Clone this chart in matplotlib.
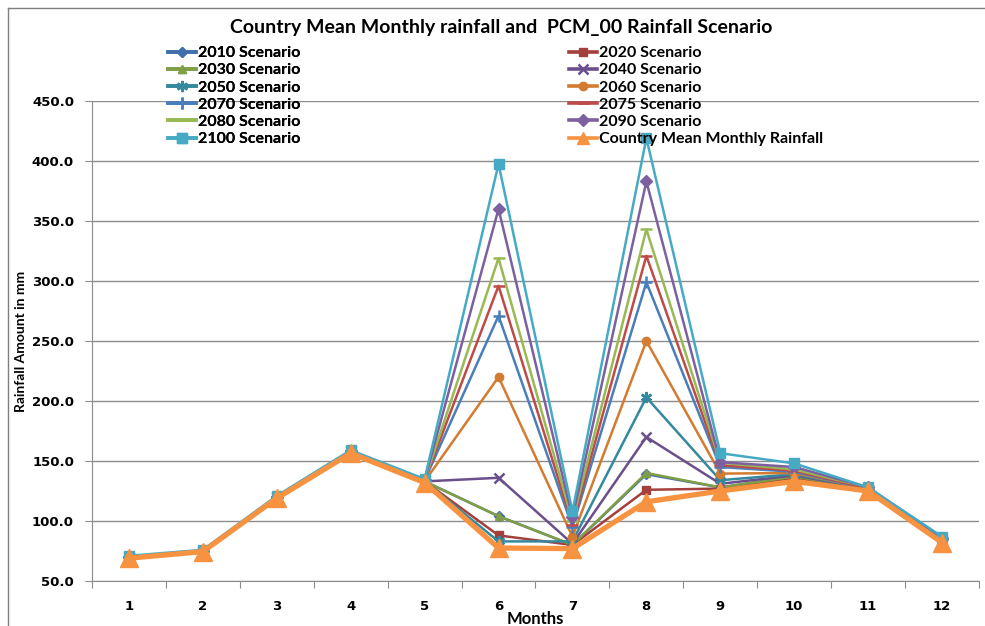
import matplotlib.pyplot as plt
from matplotlib.lines import Line2D
import numpy as np

# data
months = list(range(1, 13))
country_mean = [69, 74.5, 119, 156.5, 132, 77.5, 77, 116, 125, 133, 125, 82]

s2010 = [70, 75, 120, 158, 133, 104, 80, 139, 128, 137, 127, 84]
s2020 = [70, 75, 120, 158, 133, 88, 80, 126, 127, 136, 127, 84]
s2030 = [70, 75, 120, 158, 133, 104, 80, 140, 128, 137, 127, 84]
s2040 = [70, 75, 120, 158, 133, 136, 81, 170, 131, 138, 127, 84]
s2050 = [70, 75, 120, 158, 133, 83, 83, 203, 134, 139, 127, 84]
s2060 = [70, 75, 120, 158, 133, 220, 87, 250, 139.5, 140, 127, 85]
s2070 = [70, 75, 120, 158, 134, 271, 95, 299, 145, 141, 127, 85]
s2075 = [70, 75, 120, 158, 134, 296, 97, 321, 146.5, 142, 127, 85]
s2080 = [70, 75, 120, 158, 134, 319, 100, 343, 148.5, 143, 128, 85]
s2090 = [70, 75, 120, 158, 134, 360, 103, 383, 149, 145, 128, 86]
s2100 = [71, 76, 121, 159, 135, 397.5, 108, 419, 156.5, 148, 128, 87]

labels = ["2010 Scenario", "2020 Scenario", "2030 Scenario", "2040 Scenario",
          "2050 Scenario", "2060 Scenario", "2070 Scenario", "2075 Scenario",
          "2080 Scenario", "2090 Scenario", "2100 Scenario",
          "Country Mean Monthly Rainfall"]
series = [s2010, s2020, s2030, s2040, s2050, s2060, s2070, s2075, s2080,
          s2090, s2100, country_mean]
colors = ["#3F6FAD", "#A33F3C", "#7F9E45", "#6A4F8A", "#35899E", "#D37B30",
          "#4A7EBB", "#BE4B48", "#98B954", "#7D60A0", "#46AAC5", "#F69240"]
markers = ["D", "s", "^", "x", (6, 2, 0), "o", "+", "_", "_", "D", "s", "^"]
msizes = [5, 6, 6, 7, 8, 6, 8, 8, 8, 6, 7, 13]
widths = [1.8] * 11 + [3.8]


def edge_w(m):
    return 1.8 if m in ("x", "+", "_") or isinstance(m, tuple) else 1


fig = plt.figure(figsize=(9.85, 6.26), dpi=100)
ax = fig.add_axes([92 / 985, 1 - 581 / 626, 887 / 985, 480 / 626])

# legend proxies: same look for every entry, like Excel's legend keys
leg_handles = []
for vals, lab, c, m, ms, lw in zip(series, labels, colors, markers, msizes, widths):
    ax.plot(months, vals, color=c, marker=m, markersize=ms, lw=lw,
            markeredgewidth=edge_w(m), markeredgecolor=c, label=lab)
    leg_handles.append(Line2D([], [], color=c, marker=m, lw=2.6,
                              markersize=min(ms, 8), markeredgewidth=edge_w(m),
                              markeredgecolor=c))

ax.set_xlim(0.5, 12.5)
ax.set_ylim(50, 450)
ax.set_yticks(np.arange(50, 451, 50))
ax.set_yticklabels(["%.1f" % v for v in np.arange(50, 451, 50)],
                   fontsize=9.5, fontweight="bold")
ax.yaxis.grid(True, color="#8C8C8C", lw=1)
ax.set_axisbelow(True)

# category axis: ticks between months, labels at centres
ax.set_xticks(np.arange(0.5, 12.6, 1))
ax.set_xticklabels([])
ax.set_xticks(months, minor=True)
ax.set_xticklabels([str(m) for m in months], minor=True,
                   fontsize=9.5, fontweight="bold")
ax.tick_params(axis="x", which="major", length=5, color="#8C8C8C")
ax.tick_params(axis="x", which="minor", length=0, pad=14)
ax.tick_params(axis="y", length=5, color="#8C8C8C", pad=8)

for s in ["top", "right"]:
    ax.spines[s].set_visible(False)
for s in ["left", "bottom"]:
    ax.spines[s].set_color("#8C8C8C")

ax.set_xlabel("Months", fontsize=12, fontweight="bold", family="Lato")
ax.xaxis.set_label_coords(0.5, -0.063)
ax.set_ylabel("Rainfall Amount in mm", fontsize=10, fontweight="bold", family="Lato")
ax.yaxis.set_label_coords(-0.073, 0.5)

fig.text(501 / 985, 1 - 27 / 626,
         "Country Mean Monthly rainfall and  PCM_00 Rainfall Scenario",
         ha="center", va="center", fontsize=14, fontweight="bold", family="Lato")

# legend in two separate columns, row order as in Excel
leg_font = {"family": "Lato", "weight": "bold", "size": 11.5}
left_idx = [0, 2, 4, 6, 8, 10]
right_idx = [1, 3, 5, 7, 9, 11]
leg_kw = dict(loc="upper left", frameon=False, prop=leg_font,
              handlelength=1.75, handletextpad=0.12, labelspacing=0.19,
              borderpad=0, borderaxespad=0)
leg1 = fig.legend([leg_handles[i] for i in left_idx], [labels[i] for i in left_idx],
                  bbox_to_anchor=(168 / 985, 1 - 46 / 626), **leg_kw)
fig.legend([leg_handles[i] for i in right_idx], [labels[i] for i in right_idx],
           bbox_to_anchor=(569 / 985, 1 - 46 / 626), **leg_kw)
fig.add_artist(leg1)

# chart border (top and left edges visible)
fig.add_artist(Line2D([8 / 985, 1], [1 - 8 / 626, 1 - 8 / 626],
                      transform=fig.transFigure, color="#7F7F7F", lw=1))
fig.add_artist(Line2D([8 / 985, 8 / 985], [0, 1 - 8 / 626],
                      transform=fig.transFigure, color="#7F7F7F", lw=1))

fig.savefig("out.png", dpi=100)
